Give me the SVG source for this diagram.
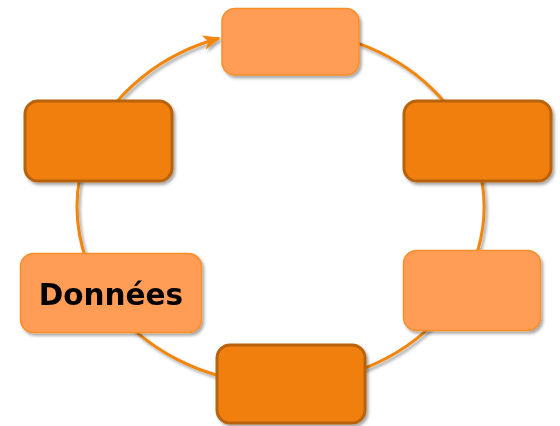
<svg xmlns="http://www.w3.org/2000/svg" width="560" height="426" viewBox="0 0 560 426">
<defs>
<style>
.dark{fill:#F07F0A;stroke:#B86208;stroke-width:3}
.light{fill:#FF9C55;stroke:#F78E2A;stroke-width:1.5}
.conn{fill:none;stroke:#F0860F;stroke-width:3}
.lbl{font-family:"DejaVu Sans",Verdana,sans-serif;font-weight:bold;font-size:29.5px;fill:#000;text-anchor:middle}
</style>
<filter id="sh" x="-10%" y="-10%" width="130%" height="130%">
<feDropShadow dx="2" dy="2.5" stdDeviation="1.6" flood-color="#000" flood-opacity="0.35"/>
</filter>
<marker id="arr" viewBox="0 0 18 15" refX="16" refY="7.5" markerWidth="18" markerHeight="15" markerUnits="userSpaceOnUse" orient="auto">
<path d="M0,0 L18,7.5 L0,15 L5,7.5 Z" fill="#F0860F"/>
</marker>
</defs>
<g id="connectors" filter="url(#sh)">
<path class="conn" d="M359,43.7 A203.5,177 0 1 1 219,38.3" marker-end="url(#arr)"/>
</g>
<g id="node-top" filter="url(#sh)">
<rect class="light" x="222" y="8.5" width="137" height="66.5" rx="13"/>
</g>
<g id="node-right-top" filter="url(#sh)">
<rect class="dark" x="404" y="101" width="147" height="80" rx="13"/>
</g>
<g id="node-right-bottom" filter="url(#sh)">
<rect class="light" x="403.5" y="250.5" width="137" height="80" rx="13"/>
</g>
<g id="node-bottom" filter="url(#sh)">
<rect class="dark" x="217" y="345" width="148" height="78" rx="13"/>
</g>
<g id="node-donnees" filter="url(#sh)">
<rect class="light" x="20.5" y="253.5" width="181" height="79" rx="13"/>
<text class="lbl" x="111" y="305">Données</text>
</g>
<g id="node-left-top" filter="url(#sh)">
<rect class="dark" x="25" y="101" width="147" height="80" rx="13"/>
</g>
</svg>
